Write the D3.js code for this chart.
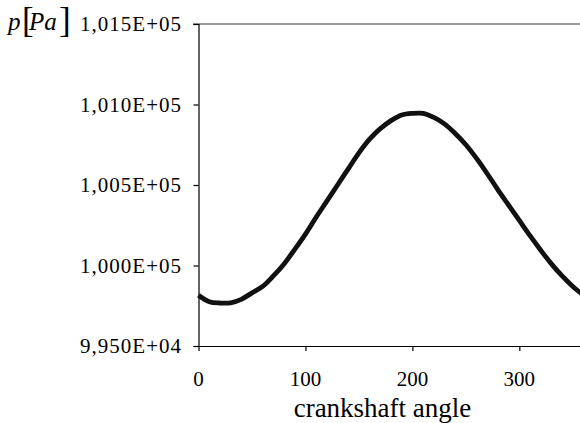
<!DOCTYPE html>
<html><head><meta charset="utf-8">
<script src="https://cdn.jsdelivr.net/npm/d3@7"></script>
<style>body{margin:0;background:#fff}svg{display:block}</style>
</head><body><svg id="c" width="580" height="423"></svg>
<script>
const angles = [0,10,20,30,40,50,60,70,80,90,100,110,120,130,140,150,160,170,180,190,200,210,220,230,240,250,260,270,280,290,300,310,320,330,340,350,360];
const pressure = [99815,99775,99767,99768,99790,99830,99870,99935,100010,100100,100195,100300,100400,100500,100600,100700,100785,100850,100900,100935,100945,100945,100920,100880,100820,100750,100665,100570,100470,100375,100280,100185,100095,100010,99935,99870,99815];
const xTicks = [0,100,200,300];
const yTicks = [99500,100000,100500,101000,101500];
const yTickLabels = ["9,950E+04","1,000E+05","1,005E+05","1,010E+05","1,015E+05"];
const xTitle = "crankshaft angle";

const FONT = '"Liberation Serif"';
const svg = d3.select("#c");
const x = d3.scaleLinear().domain([0,360]).range([198.5,583.5]);
const y = d3.scaleLinear().domain([99500,101500]).range([346,24]);

svg.append("line").attr("x1",193).attr("x2",580).attr("y1",y(101500)).attr("y2",y(101500))
  .attr("stroke","#333").attr("stroke-width",1.2);

const ya = svg.append("g").attr("transform",`translate(${x(0)},0)`)
  .call(d3.axisLeft(y).tickValues(yTicks).tickSize(5).tickFormat(""));
ya.select(".domain").attr("stroke","#000").attr("stroke-width",1.2);
ya.selectAll(".tick line").attr("stroke","#000").attr("stroke-width",1.2);
ya.selectAll(".tick text").remove();

const xa = svg.append("g").attr("transform",`translate(0,${y(99500)})`)
  .call(d3.axisBottom(x).tickValues(xTicks).tickSize(5).tickSizeOuter(0).tickFormat(""));
xa.select(".domain").attr("stroke","#000").attr("stroke-width",1.2);
xa.selectAll(".tick line").attr("stroke","#000").attr("stroke-width",1.2);
xa.selectAll(".tick text").remove();

// tick labels, appended directly to the svg
yTicks.forEach((d,i)=>{
  svg.append("text").attr("x",x(0)-16.5).attr("y",y(d)+7).attr("text-anchor","end")
    .attr("font-family","Liberation Serif").style("font-family",FONT)
    .style("font-size","21px").style("letter-spacing","1px").attr("fill","#000")
    .text(yTickLabels[i]);
});
xTicks.forEach(d=>{
  svg.append("text").attr("x",x(d)).attr("y",y(99500)+39.5).attr("text-anchor","middle")
    .attr("font-family","Liberation Serif").style("font-family",FONT)
    .style("font-size","21px").attr("fill","#000").text(String(d));
});

svg.append("text").attr("x",382.5).attr("y",417).attr("text-anchor","middle")
  .attr("font-family","Liberation Serif").style("font-family",FONT).style("font-size","27px").text(xTitle);

// y title p[Pa]
const yt = svg.append("text").attr("font-family","Liberation Serif").style("font-family",FONT).style("font-size","25px").attr("y",30);
yt.append("tspan").attr("x",8).style("font-style","italic").text("p");
yt.append("tspan").attr("x",22).attr("dy",2).style("font-size","35px").text("[");
yt.append("tspan").attr("x",29).attr("dy",-2).style("font-style","italic").text("Pa");
yt.append("tspan").attr("x",59).attr("dy",2).style("font-size","35px").text("]");

const line = d3.line().x((d,i)=>x(angles[i])).y(d=>y(d)).curve(d3.curveCatmullRom);
svg.append("path").datum(pressure).attr("d",line).attr("fill","none")
  .attr("stroke","#111").attr("stroke-width",4.8).attr("stroke-linejoin","round");
</script></body></html>
